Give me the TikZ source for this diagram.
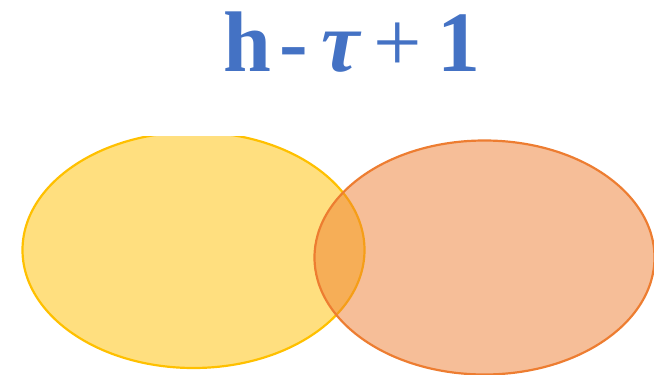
\documentclass[tikz,border=0pt]{standalone}
\usepackage{fontspec}
\setmainfont{Liberation Serif}
\definecolor{titleblue}{HTML}{4472C4}
\definecolor{gold}{HTML}{FFC000}
\definecolor{orng}{HTML}{ED7D31}
\begin{document}
\begin{tikzpicture}[x=1pt,y=-1pt,
  setA/.style={draw=gold,line width=2.2pt,fill=gold,fill opacity=0.5,draw opacity=1},
  setB/.style={draw=orng,line width=2.2pt,fill=orng,fill opacity=0.5,draw opacity=1}]
\useasboundingbox (0,0) rectangle (654,375);
\begin{scope}
\clip (0,136) rectangle (654,375);
\draw[setA] (193.5,250) ellipse [x radius=171, y radius=118];
\end{scope}
\draw[setB] (484.5,257.5) ellipse [x radius=170, y radius=117];
\node[anchor=base west,inner sep=0pt,text=titleblue,font=\fontsize{86}{86}\selectfont] (title) at (223,71)
  {\bfseries h\hspace{9pt}-\hspace{13pt}\textit{τ}\hspace{11pt}\mdseries+\hspace{16pt}\bfseries 1};
\end{tikzpicture}
\end{document}
